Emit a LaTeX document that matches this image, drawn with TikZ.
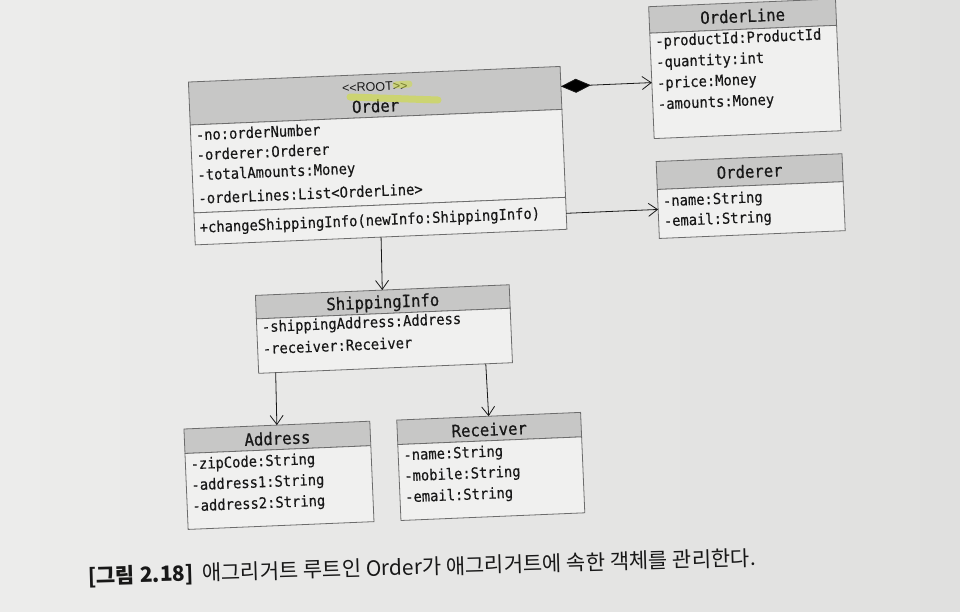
\documentclass[tikz,border=0pt]{standalone}
\usepackage{fontspec}
\usetikzlibrary{arrows.meta,calc}

\newfontfamily\umlfont{DejaVu Sans Mono}[FakeStretch=0.92,FakeBold=0.3]
\newfontfamily\umltitle{DejaVu Sans Mono}[FakeStretch=0.92,FakeBold=0.6]
\newfontfamily\stereofont{Liberation Sans}
\newfontfamily\capfont{Noto Sans CJK KR}

\definecolor{paperlight}{RGB}{236,236,235}
\definecolor{paperdark}{RGB}{224,224,223}
\definecolor{headgray}{RGB}{199,199,198}
\definecolor{bodygray}{RGB}{240,240,239}
\definecolor{edgegray}{RGB}{108,108,108}
\definecolor{inkdark}{RGB}{24,24,24}
\definecolor{marker}{RGB}{208,222,58}

\tikzset{
  hdrbox/.style={anchor=north west, inner sep=0pt, outer sep=0pt, transform shape,
                 fill=headgray, draw=edgegray, line width=0.8pt},
  bodybox/.style={anchor=north west, inner sep=0pt, outer sep=0pt, transform shape,
                  fill=bodygray, draw=edgegray, line width=0.8pt},
  ttl/.style={anchor=base, inner sep=0pt, transform shape, text=inkdark,
              font=\umltitle\fontsize{17}{19}\selectfont},
  stereo/.style={anchor=base, inner sep=0pt, transform shape, text=inkdark,
                 font=\stereofont\fontsize{12.5}{14}\selectfont},
  attr/.style={anchor=base west, inner sep=0pt, transform shape, text=inkdark,
               font=\umlfont\fontsize{15}{17}\selectfont},
  link/.style={draw=inkdark, line width=0.8pt},
  openhead/.style={-{Straight Barb[length=9pt,width=13pt,line width=0.8pt]}},
  comphead/.style={{Diamond[length=30pt,width=14pt,fill=black]}-{Straight Barb[length=9pt,width=13pt,line width=0.8pt]}},
}

\begin{document}
\begin{tikzpicture}[x=1pt,y=-1pt]
\shade[left color=paperlight, right color=paperdark] (0,0) rectangle (960,611);
\useasboundingbox (0,0) rectangle (960,611);

\begin{scope}[rotate around={2.4:(480,305)}]
  % Order (aggregate root)
  \node[hdrbox,  minimum width=372pt, minimum height=43pt] (order)   at (198,70)  {};
  \node[bodybox, minimum width=372pt, minimum height=88pt] (order-a) at (198,113) {};
  \node[bodybox, minimum width=372pt, minimum height=32pt] (order-m) at (198,201) {};
  \node[stereo] (order-st) at (384,87)  {<\kern0pt<ROOT>\kern0pt>};
  \node[ttl]    (order-t)  at (384,108) {Order};
  \node[attr] (order-a1) at (203,128.5) {-no:orderNumber};
  \node[attr] (order-a2) at (203,148.5) {-orderer:Orderer};
  \node[attr] (order-a3) at (203,168.5) {-totalAmounts:Money};
  \node[attr] (order-a4) at (203,192)   {-orderLines:List<OrderLine>};
  \node[attr] (order-m1) at (203,221)   {+changeShippingInfo(newInfo:ShippingInfo)};

  % OrderLine
  \node[hdrbox,  minimum width=187pt, minimum height=26.5pt]  (ol)   at (661,14)   {};
  \node[bodybox, minimum width=187pt, minimum height=105.5pt] (ol-a) at (661,40.5) {};
  \node[ttl]  (ol-t)  at (754.5,33.5) {OrderLine};
  \node[attr] (ol-a1) at (666,54)  {-productId:ProductId};
  \node[attr] (ol-a2) at (666,75)  {-quantity:int};
  \node[attr] (ol-a3) at (666,96)  {-price:Money};
  \node[attr] (ol-a4) at (666,117) {-amounts:Money};

  % Orderer
  \node[hdrbox,  minimum width=186pt, minimum height=28pt] (orderer)   at (662,169) {};
  \node[bodybox, minimum width=186pt, minimum height=49pt] (orderer-a) at (662,197) {};
  \node[ttl]  (orderer-t)  at (755,189) {Orderer};
  \node[attr] (orderer-a1) at (667,214) {-name:String};
  \node[attr] (orderer-a2) at (667,234) {-email:String};

  % ShippingInfo
  \node[hdrbox,  minimum width=254pt, minimum height=23.5pt] (ship)   at (256,286)   {};
  \node[bodybox, minimum width=254pt, minimum height=54.5pt] (ship-a) at (256,309.5) {};
  \node[ttl]  (ship-t)  at (383,304) {ShippingInfo};
  \node[attr] (ship-a1) at (261,323) {-shippingAddress:Address};
  \node[attr] (ship-a2) at (261,345) {-receiver:Receiver};

  % Address
  \node[hdrbox,  minimum width=186pt, minimum height=24.5pt] (addr)   at (179,416.5) {};
  \node[bodybox, minimum width=186pt, minimum height=76pt]   (addr-a) at (179,441)   {};
  \node[ttl]  (addr-t)  at (272,436) {Address};
  \node[attr] (addr-a1) at (184,457) {-zipCode:String};
  \node[attr] (addr-a2) at (184,478) {-address1:String};
  \node[attr] (addr-a3) at (184,499) {-address2:String};

  % Receiver
  \node[hdrbox,  minimum width=184pt, minimum height=24.5pt] (recv)   at (392,416.5) {};
  \node[bodybox, minimum width=184pt, minimum height=76pt]   (recv-a) at (392,441)   {};
  \node[ttl]  (recv-t)  at (484,436) {Receiver};
  \node[attr] (recv-a1) at (397,457) {-name:String};
  \node[attr] (recv-a2) at (397,478) {-mobile:String};
  \node[attr] (recv-a3) at (397,499) {-email:String};

  % connector end points on the box edges
  \coordinate (c-ol-from)   at ($(order.north east)!0.465!(order.south east)$);
  \coordinate (c-ol-to)     at ($(ol-a.north west)!0.469!(ol-a.south west)$);
  \coordinate (c-or-to)     at ($(orderer-a.north west)!0.408!(orderer-a.south west)$);
  \coordinate (c-addr-from) at ($(ship-a.south west)!0.067!(ship-a.south east)$);
  \coordinate (c-recv-from) at ($(ship-a.south west)!0.895!(ship-a.south east)$);

  % associations
  \draw[link,comphead] (c-ol-from) -- (c-ol-to);
  \draw[link,openhead] (order-m.east) -- (c-or-to);
  \draw[link,openhead] (order-m.south) -- (ship.north);
  \draw[link,openhead] (c-addr-from) -- (addr.north);
  \draw[link,openhead] (c-recv-from) -- (recv.north);
\end{scope}

% marker stroke over the stereotype
\draw[marker, opacity=0.6, line width=7pt, line cap=round] (350,97) -- (438,100);
\draw[marker, opacity=0.5, line width=7pt, line cap=round] (396,85) -- (409,84);

% caption
\node[anchor=base west, inner sep=0pt, rotate=1.6, text=inkdark,
      font=\capfont\fontsize{21}{25}\selectfont] (caption) at (88,584)
  {{\bfseries [그림 2.18]}\hspace{8pt}애그리거트 루트인 Order가 애그리거트에 속한 객체를 관리한다.};
\end{tikzpicture}
\end{document}
